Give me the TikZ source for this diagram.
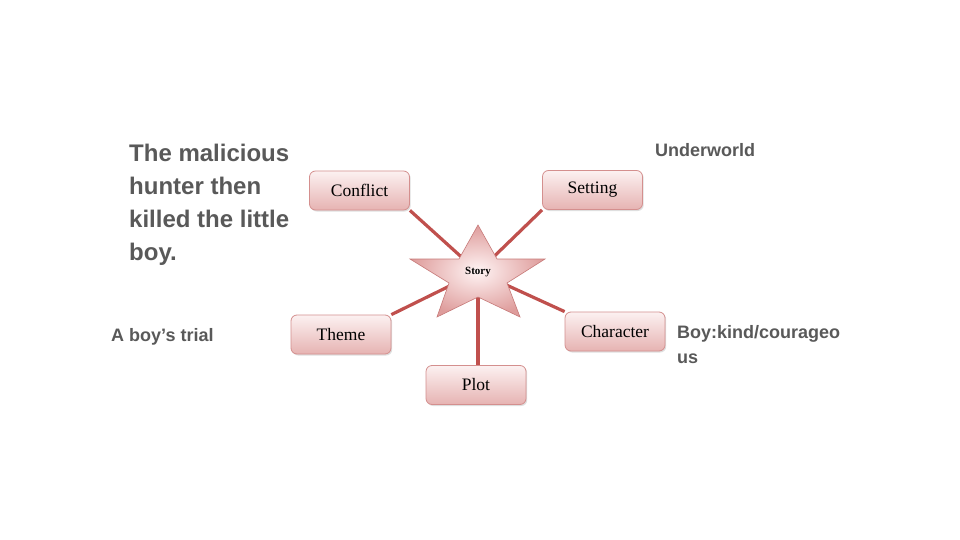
\documentclass[tikz,border=0pt]{standalone}
\usepackage{fontspec}
\setmainfont{Liberation Serif}
\newfontfamily\labelsans{Liberation Sans}
\usetikzlibrary{shadows}
\definecolor{linkred}{HTML}{C0504D}
\definecolor{boxedge}{HTML}{D48F8E}
\definecolor{boxtop}{HTML}{FCF1F1}
\definecolor{boxbot}{HTML}{E6B3B2}
\definecolor{starin}{HTML}{FFF4F4}
\definecolor{starout}{HTML}{DE9C9B}
\definecolor{staredge}{HTML}{C77A79}
\definecolor{notegray}{HTML}{595959}
\pgfdeclarelayer{bg}
\pgfsetlayers{bg,main}
\begin{document}
\begin{tikzpicture}[x=1pt,y=-1pt,
  topicbox/.style={draw=boxedge, line width=0.8pt, rounded corners=6pt,
    top color=boxtop, bottom color=boxbot, minimum width=100pt,
    minimum height=39pt, inner sep=0pt, font=\fontsize{17.5}{20}\selectfont,
    drop shadow={shadow xshift=1.2pt, shadow yshift=-1.5pt, opacity=0.25}},
  link/.style={draw=linkred, line width=3.2pt},
  starshape/.style={draw=staredge, line width=0.6pt, inner color=starin, outer color=starout},
  note/.style={text=notegray, font=\labelsans\bfseries\fontsize{18}{25}\selectfont, inner sep=0pt, align=left},
  bignote/.style={text=notegray, font=\labelsans\bfseries\fontsize{24}{33}\selectfont, inner sep=0pt, align=left}
]
\useasboundingbox (0,0) rectangle (960,540);

\coordinate (story) at (478,272);
\node[topicbox] (conflict)  at (359.5,190.5) {Conflict};
\node[topicbox] (setting)   at (592.5,190)   {Setting};
\node[topicbox] (theme)     at (341,334.5)   {Theme};
\node[topicbox] (character) at (615,331.5)   {Character};
\node[topicbox] (plot)      at (476,385)     {Plot};

\begin{pgfonlayer}{bg}
  \fill[white] (0,0) rectangle (960,540);
  \draw[link] (story) -- (conflict.south east);
  \draw[link] (story) -- (setting.south west);
  \draw[link] (story) -- (theme.north east);
  \draw[link] (story) -- (character.north west);
  \draw[link] (story) -- (story |- plot.north);
\end{pgfonlayer}

\draw[starshape] (478,225) -- (497,259) -- (545,259) -- (507,283) -- (520,317)
  -- (478,297) -- (437,317) -- (449,283) -- (410,259) -- (459,259) -- cycle;
\node[font=\bfseries\fontsize{11}{12}\selectfont] (storylabel) at (story) {Story};

\node[bignote, anchor=north west] (event) at (129,143.5)
  {The malicious\\hunter then\\killed the little\\boy.};
\node[note, anchor=base west] (settingnote) at (655,157) {Underworld};
\node[note, anchor=base west] (themenote) at (111,341) {A boy’s trial};
\node[note, anchor=north west] (characternote) at (677,325) {Boy:kind/courageo\\us};
\end{tikzpicture}
\end{document}
